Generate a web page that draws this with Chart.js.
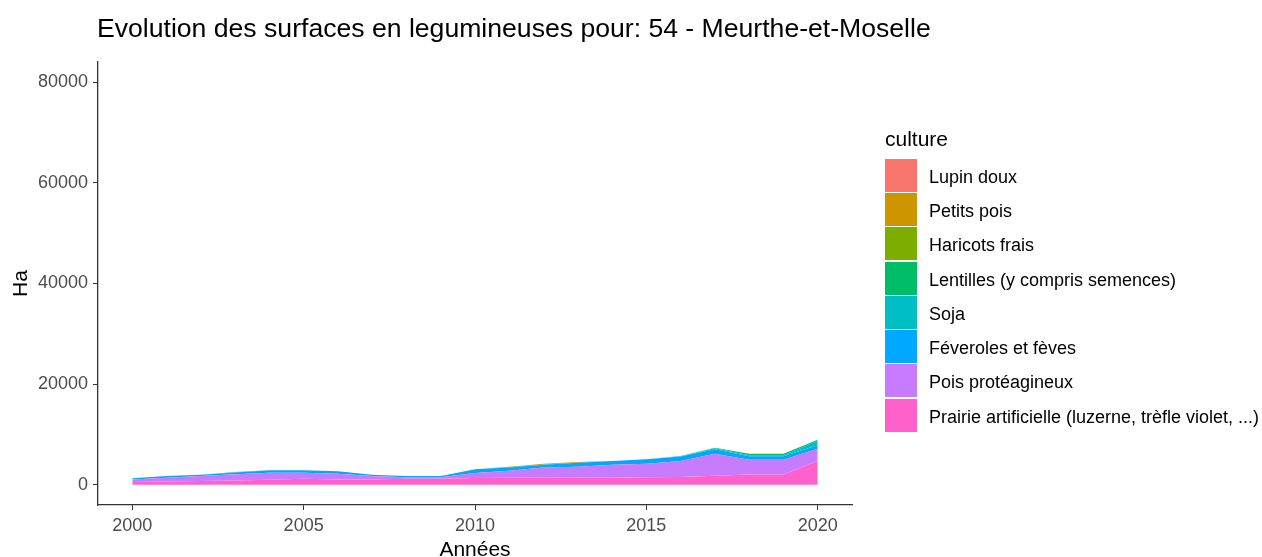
<!DOCTYPE html>
<html><head><meta charset="utf-8">
<script src="https://cdn.jsdelivr.net/npm/chart.js@4.4.0/dist/chart.umd.min.js"></script>
<style>
html,body{margin:0;padding:0;background:#fff;}
#wrap{position:relative;width:1262px;height:557px;font-family:"Liberation Sans",Arial,sans-serif;overflow:hidden;}
canvas{position:absolute;left:0;top:0;}
#title{position:absolute;left:97px;top:13px;font-size:26.6px;line-height:30px;color:#000;white-space:nowrap;}
#legend{position:absolute;left:885px;top:126px;}
#legend .t{font-size:21px;line-height:26px;color:#000;margin-bottom:6px;}
#legend .it{display:flex;align-items:center;height:34.3px;}
#legend .b{width:32px;height:33px;margin-right:12px;}
#legend .l{font-size:18px;color:#000;position:relative;top:2px;}
</style></head>
<body><div id="wrap"><canvas id="c" width="1262" height="557"></canvas>
<div id="title">Evolution des surfaces en legumineuses pour: 54 - Meurthe-et-Moselle</div>
<div id="legend"></div></div>
<script>
const years = [2000,2001,2002,2003,2004,2005,2006,2007,2008,2009,2010,2011,2012,2013,2014,2015,2016,2017,2018,2019,2020];
const cultures = ["Lupin doux","Petits pois","Haricots frais","Lentilles (y compris semences)","Soja","Féveroles et fèves","Pois protéagineux","Prairie artificielle (luzerne, trèfle violet, ...)"];
const colors = ["#F8766D","#CD9600","#7CAE00","#00BE67","#00BFC4","#00A9FF","#C77CFF","#FF61CC"];
const lupin      = [0,0,0,0,0,0,0,0,0,0,0,0,0,0,0,0,0,0,0,0,0];
const petitsPois = [0,0,0,0,0,0,0,0,0,0,0,50,150,150,0,0,0,0,0,0,0];
const haricots   = [0,0,0,0,0,0,0,0,0,0,0,0,0,0,0,0,0,0,0,0,0];
const lentilles  = [0,0,0,0,0,0,0,0,0,0,0,100,50,0,0,0,0,100,300,300,280];
const soja       = [0,0,0,100,0,0,0,0,0,0,0,0,0,0,0,0,100,200,200,200,800];
const feveroles  = [200,320,250,340,460,460,460,270,260,260,700,610,530,770,720,900,900,900,700,700,700];
const pois       = [530,780,1000,1250,1420,1190,1130,660,290,290,1030,1390,2040,2180,2580,2700,3180,4370,2920,2920,2460];
const prairie    = [560,650,750,850,1000,1230,1090,1090,1200,1200,1350,1430,1430,1430,1430,1500,1550,1820,2080,2080,4730];
const yTicks = [0,20000,40000,60000,80000];
const xTicks = [2000,2005,2010,2015,2020];

const seriesTopDown = [lupin,petitsPois,haricots,lentilles,soja,feveroles,pois,prairie];
const datasets = [];
for (let i = seriesTopDown.length-1; i >= 0; i--) {
  datasets.push({
    label: cultures[i],
    data: years.map((y,k)=>({x:y,y:seriesTopDown[i][k]})),
    backgroundColor: colors[i],
    borderWidth: 0, pointRadius: 0, tension: 0,
    fill: datasets.length === 0 ? 'origin' : '-1'
  });
}
const leg = document.getElementById('legend');
leg.innerHTML = '<div class="t">culture</div>' + cultures.map((c,i)=>
  `<div class="it"><div class="b" style="background:${colors[i]}"></div><div class="l">${c}</div></div>`).join('');

new Chart(document.getElementById('c'), {
  type: 'line',
  data: { datasets },
  options: {
    responsive: false, animation: false,
    layout: { padding: { top: 62, right: 410, left: 0, bottom: 0 } },
    plugins: { legend: { display: false }, tooltip: { enabled: false } },
    scales: {
      x: {
        type: 'linear', min: 1999, max: 2021,
        afterBuildTicks: s => { s.ticks = xTicks.map(v=>({value:v})); },
        afterFit: s => { s.height = 52; },
        grid: { drawOnChartArea: false, tickLength: 5, color: '#333', lineWidth: 1 },
        border: { color: '#333', width: 1.3 },
        ticks: { color: '#4D4D4D', font: { size: 18, family: 'Liberation Sans' }, padding: 5, maxRotation: 0, callback: v => String(v) },
        title: { display: true, text: 'Années', color: '#000', font: { size: 21, family: 'Liberation Sans' }, padding: { top: 0, bottom: -6 } }
      },
      y: {
        stacked: true, min: -4000, max: 84000,
        afterBuildTicks: s => { s.ticks = yTicks.map(v=>({value:v})); },
        afterFit: s => { s.width = 98; },
        grid: { drawOnChartArea: false, tickLength: 5, color: '#333', lineWidth: 1 },
        border: { color: '#333', width: 1.3 },
        ticks: { color: '#4D4D4D', font: { size: 18, family: 'Liberation Sans' }, padding: 5, callback: v => String(v) },
        title: { display: true, text: 'Ha', color: '#000', font: { size: 21, family: 'Liberation Sans' }, padding: { top: 9, bottom: 2 } }
      }
    }
  }
});
</script></body></html>
